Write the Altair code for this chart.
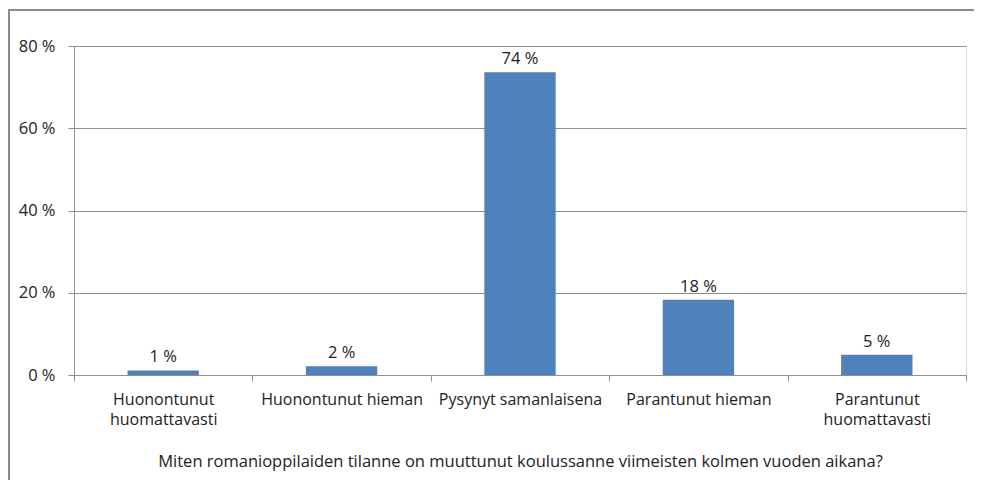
import altair as alt
import pandas as pd

categories = [
    "Huonontunut|huomattavasti",
    "Huonontunut hieman",
    "Pysynyt samanlaisena",
    "Parantunut hieman",
    "Parantunut|huomattavasti",
]
values = [1.1, 2.1, 73.6, 18.3, 4.9]
value_labels = ["1 %", "2 %", "74 %", "18 %", "5 %"]
y_ticks = [0, 20, 40, 60, 80]
x_title = "Miten romanioppilaiden tilanne on muuttunut koulussanne viimeisten kolmen vuoden aikana?"

df = pd.DataFrame({"cat": categories, "val": values, "lab": value_labels})

W, H = 892, 329
FONT = "Open Sans"
TXT = "#222222"
GRID = "#8f8f8f"

x_enc = alt.X(
    "cat:N",
    sort=categories,
    scale=alt.Scale(paddingInner=0, paddingOuter=0),
    axis=alt.Axis(
        title=x_title,
        tickBand="extent",
        labelExpr="split(datum.label, '|')",
        labelAngle=0,
        labelFont=FONT,
        labelFontSize=16,
        labelColor=TXT,
        labelPadding=10,
        labelLineHeight=20,
        titleFont=FONT,
        titleFontSize=16.5,
        titleFontWeight="normal",
        titleColor=TXT,
        titlePadding=26,
        domainColor=GRID,
        tickColor=GRID,
        tickSize=6,
        grid=False,
    ),
)
y_enc = alt.Y(
    "val:Q",
    scale=alt.Scale(domain=[0, 80], nice=False),
    axis=alt.Axis(
        title=None,
        values=y_ticks,
        labelExpr="datum.value + ' %'",
        labelFont=FONT,
        labelFontSize=16.5,
        labelColor=TXT,
        labelPadding=13,
        domainColor=GRID,
        tickColor=GRID,
        tickSize=6,
        gridColor=GRID,
        gridOpacity=1,
    ),
)

bars = alt.Chart(df).mark_bar(width={"band": 0.4}, color="#4F81BD").encode(x=x_enc, y=y_enc)
texts = alt.Chart(df).mark_text(
    dy=-5, font=FONT, fontSize=16.5, color=TXT, baseline="bottom"
).encode(x=alt.X("cat:N", sort=categories), y="val:Q", text="lab:N")

frame_top = alt.Chart(df).mark_rule(color="#8a8a8a", strokeWidth=2, strokeCap="butt").encode(
    x=alt.value(-66), x2=alt.value(W + 8), y=alt.value(-36), y2=alt.value(-36)
)
frame_left = alt.Chart(df).mark_rule(color="#8a8a8a", strokeWidth=2, strokeCap="butt").encode(
    x=alt.value(-65), x2=alt.value(-65), y=alt.value(-37), y2=alt.value(H + 105)
)

chart = (
    alt.layer(bars, texts, frame_top, frame_left)
    .properties(
        width=W,
        height=H,
        autosize=alt.AutoSizeParams(type="none"),
        padding={"left": 66, "top": 38, "right": 9, "bottom": 105},
    )
    .configure_view(stroke=None)
    .configure(background="white")
)

chart.save("out.html", embed_options={"renderer": "svg", "actions": False})
